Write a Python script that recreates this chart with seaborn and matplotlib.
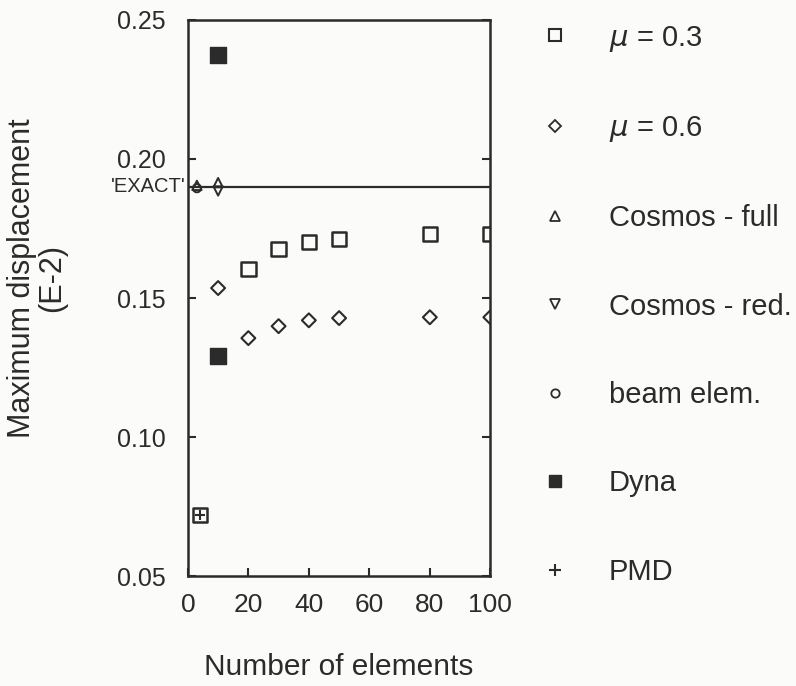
import numpy as np
import pandas as pd
import matplotlib
matplotlib.use("Agg")
import matplotlib.pyplot as plt
from matplotlib.lines import Line2D
import seaborn as sns

# values
mu03_n = [4, 20, 30, 40, 50, 80, 100]
mu03_d = [0.072, 0.1605, 0.1677, 0.1702, 0.1713, 0.1731, 0.1731]
mu06_n = [10, 20, 30, 40, 50, 80, 100]
mu06_d = [0.1536, 0.1356, 0.1399, 0.1420, 0.1428, 0.1431, 0.1431]
cosf_n = [3, 10]
cosf_d = [0.1905, 0.1915]
cosr_n = [10]
cosr_d = [0.1885]
beam_n = [3]
beam_d = [0.1895]
dyna_n = [10, 10]
dyna_d = [0.2374, 0.129]
pmd_n = [4]
pmd_d = [0.072]
exact = 0.19

labels = ["$\\mu$ = 0.3", "$\\mu$ = 0.6", "Cosmos - full", "Cosmos - red.",
          "beam elem.", "Dyna", "PMD"]

sns.set_style("ticks")
plt.rcParams['font.family'] = ['Liberation Sans', 'DejaVu Sans']
plt.rcParams['mathtext.fontset'] = 'dejavusans'

ink = "#2b2b2b"
fig = plt.figure(figsize=(7.96, 6.86), dpi=100)
fig.patch.set_facecolor("#fbfbf9")
ax = fig.add_axes([0.236, 0.160, 0.380, 0.811])
ax.set_facecolor("#fbfbf9")

ax.axhline(exact, color=ink, lw=1.6, zorder=1)

sns.scatterplot(x=mu03_n, y=mu03_d, ax=ax, marker='s', s=110, facecolors='none',
                edgecolor=ink, linewidth=1.8, zorder=3)
sns.scatterplot(x=mu06_n, y=mu06_d, ax=ax, marker='D', s=50, facecolors='none',
                edgecolor=ink, linewidth=1.5, zorder=3)
sns.scatterplot(x=cosf_n, y=cosf_d, ax=ax, marker='^', s=45, facecolors='none',
                edgecolor=ink, linewidth=1.4, zorder=3)
sns.scatterplot(x=cosr_n, y=cosr_d, ax=ax, marker='v', s=45, facecolors='none',
                edgecolor=ink, linewidth=1.4, zorder=3)
sns.scatterplot(x=beam_n, y=beam_d, ax=ax, marker='o', s=35, facecolors='none',
                edgecolor=ink, linewidth=1.4, zorder=3)
sns.scatterplot(x=dyna_n, y=dyna_d, ax=ax, marker='s', s=130, color=ink,
                edgecolor=ink, linewidth=1, zorder=4)
sns.scatterplot(x=pmd_n, y=pmd_d, ax=ax, marker='+', s=60, color=ink,
                linewidth=1.5, zorder=4)

ax.set_xlim(0, 100)
ax.set_ylim(0.05, 0.25)
ax.set_xticks([0, 20, 40, 60, 80, 100])
ax.set_yticks([0.05, 0.10, 0.15, 0.20, 0.25])
ax.set_yticklabels(["0.05", "0.10", "0.15", "0.20", "0.25"])
ax.tick_params(direction='in', length=6, width=1.5, colors=ink,
               right=True, top=False)
ax.tick_params(axis='y', pad=16, labelsize=18)
ax.tick_params(axis='x', pad=12, labelsize=19)
for sp in ax.spines.values():
    sp.set_visible(True)
    sp.set_linewidth(1.8)
    sp.set_color(ink)

ax.text(-0.008, exact, "'EXACT'", transform=ax.get_yaxis_transform(),
        ha='right', va='center', fontsize=14.5, color=ink)

ax.set_xlabel("Number of elements", fontsize=21.5, color=ink, labelpad=26)
ax.set_ylabel("Maximum displacement\n(E-2)", fontsize=22, color=ink,
              linespacing=1.0)
ax.yaxis.set_label_coords(-0.40, 0.536)

handles = [
    Line2D([], [], ls='none', marker='s', ms=8, mfc='none', mec=ink, mew=1.5),
    Line2D([], [], ls='none', marker='D', ms=6, mfc='none', mec=ink, mew=1.3),
    Line2D([], [], ls='none', marker='^', ms=7, mfc='none', mec=ink, mew=1.3),
    Line2D([], [], ls='none', marker='v', ms=7, mfc='none', mec=ink, mew=1.3),
    Line2D([], [], ls='none', marker='o', ms=6, mfc='none', mec=ink, mew=1.3),
    Line2D([], [], ls='none', marker='s', ms=8, mfc=ink, mec=ink),
    Line2D([], [], ls='none', marker='+', ms=8, mec=ink, mew=1.5),
]
fig.legend(handles, labels, loc='upper left', bbox_to_anchor=(0.646, 1.004),
           frameon=False, fontsize=21, labelspacing=2.07, handletextpad=1.35,
           handlelength=1.0, labelcolor=ink)

fig.savefig("out.png", dpi=100, facecolor=fig.get_facecolor())
